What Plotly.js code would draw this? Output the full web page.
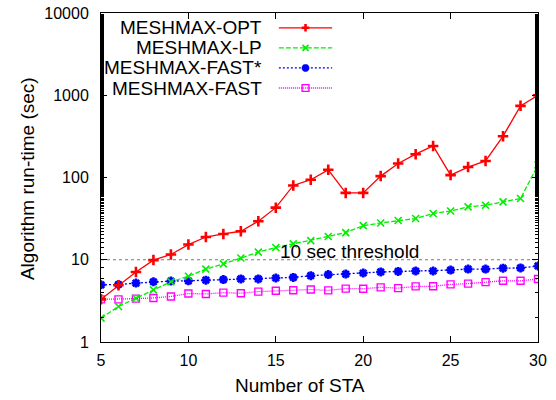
<!DOCTYPE html>
<html>
<head>
<meta charset="utf-8">
<script src="https://cdn.plot.ly/plotly-3.0.1.min.js"></script>
<style>html,body{margin:0;padding:0;background:#fff;}#chart{width:556px;height:400px;}</style>
</head>
<body>
<div id="chart"></div>
<script>
const numSTA = [5,6,7,8,9,10,11,12,13,14,15,16,17,18,19,20,21,22,23,24,25,26,27,28,29,30];
const meshmaxOpt = [3.3,4.9,7.1,9.9,11.6,15.3,18.9,20.6,22.2,29.4,43,80,94,124,65,65,104,148,192,242,107,134,159,318,743,1000];
const meshmaxLp = [1.95,2.7,3.4,4.3,5.4,6.3,7.7,8.9,10.5,12.4,14.1,15.6,17.1,19.2,21.4,26,28,30,31.7,36.5,39.2,43.9,46,50.6,55.5,142];
const meshmaxFastStar = [4.95,5.0,5.2,5.4,5.5,5.55,5.65,5.75,5.85,5.85,6.0,6.1,6.4,6.6,6.7,6.9,7.1,7.2,7.3,7.3,7.5,7.7,7.7,7.9,7.95,8.4];
const meshmaxFast = [3.3,3.3,3.37,3.43,3.58,3.88,3.84,3.98,3.92,4.1,4.2,4.25,4.34,4.24,4.46,4.44,4.62,4.52,4.74,4.76,5.02,5.13,5.35,5.55,5.55,5.84];
const seriesNames = ["MESHMAX-OPT","MESHMAX-LP","MESHMAX-FAST*","MESHMAX-FAST"];
const thresholdValue = 10;
const thresholdLabel = "10 sec threshold";
const xTicks = [5,10,15,20,25,30];
const yTickVals = [1,10,100,1000,10000];
const yTickText = ["1","10","100","1000","10000"];
const xTitle = "Number of STA";
const yTitle = "Algorithm run-time (sec)";

const FONT = "Liberation Sans, Arial, Helvetica, sans-serif";
const styles = [
  {color:"#ff0000", dash:"solid", symbol:"cross-thin-open", size:7.5, mlw:2.6},
  {color:"#00ee00", dash:"5px,2px", symbol:"x-thin-open", size:7, mlw:1.6},
  {color:"#0000ff", dash:"2px,2px", symbol:"asterisk-open", size:7.5, mlw:2.6},
  {color:"#ff00ff", dash:"1px,1px", symbol:"square-open", size:7, mlw:1.4}
];
const seriesData = [meshmaxOpt, meshmaxLp, meshmaxFastStar, meshmaxFast];

const traces = [{
  x:[numSTA[0], numSTA[numSTA.length-1]], y:[thresholdValue, thresholdValue],
  mode:"lines", line:{color:"#777777", width:1, dash:"3px,3px"},
  showlegend:false, hoverinfo:"skip"
}];
for (let i = seriesData.length-1; i >= 0; i--) {
  const s = styles[i];
  traces.push({
    x:numSTA, y:seriesData[i], name:seriesNames[i], mode:"lines+markers",
    line:{color:s.color, width:1.3, dash:s.dash},
    marker:{symbol:s.symbol, size:s.size, color:s.color, line:{color:s.color, width:s.mlw}},
    showlegend:false
  });
}

// gnuplot-style key: text right-aligned, sample to the right
const keyRows = [0.955, 0.894, 0.833, 0.772];
const keyTextX = 0.373, keyLineX0 = 0.407, keyLineX1 = 0.529, keyMarkX = 0.468;
const markerPaths = [
  "M-3.8,0H3.8M0,-3.8V3.8",
  "M-3,-3L3,3M-3,3L3,-3",
  "M-3.8,0H3.8M0,-3.8V3.8M-2.7,-2.7L2.7,2.7M-2.7,2.7L2.7,-2.7",
  "M-3.4,-3.4H3.4V3.4H-3.4Z"
];
const annotations = [];
const shapes = [];
seriesNames.forEach((n, i) => {
  const s = styles[i];
  annotations.push({text:n, xref:"paper", yref:"paper", x:keyTextX, y:keyRows[i],
    xanchor:"right", yanchor:"middle", showarrow:false, font:{family:FONT, size:19, color:"#000"}});
  shapes.push({type:"line", xref:"paper", yref:"paper", x0:keyLineX0, x1:keyLineX1, y0:keyRows[i], y1:keyRows[i],
    line:{color:s.color, width:1.3, dash:s.dash}});
  shapes.push({type:"path", xref:"paper", yref:"paper", xsizemode:"pixel", ysizemode:"pixel",
    xanchor:keyMarkX, yanchor:keyRows[i], path:markerPaths[i],
    line:{color:s.color, width:s.mlw}, fillcolor:"rgba(0,0,0,0)"});
});
annotations.push({text:thresholdLabel, xref:"x", yref:"y", x:19.2, y:Math.log10(thresholdValue),
  xanchor:"center", yanchor:"middle", yshift:8, showarrow:false, font:{family:FONT, size:19, color:"#000"}});
annotations.push({text:xTitle, xref:"paper", yref:"paper", x:0.4565, y:-0.131,
  xanchor:"center", yanchor:"middle", showarrow:false, font:{family:FONT, size:19, color:"#000"}});
annotations.push({text:yTitle, xref:"paper", yref:"paper", x:-0.168, y:0.497, textangle:-90,
  xanchor:"center", yanchor:"middle", showarrow:false, font:{family:FONT, size:19, color:"#000"}});

const layout = {
  width:556, height:400,
  margin:{l:101, r:18, t:13, b:58},
  paper_bgcolor:"#fff", plot_bgcolor:"#fff",
  showlegend:false,
  font:{family:FONT, size:16, color:"#000"},
  xaxis:{range:[5,30], tickvals:xTicks, ticks:"inside", ticklen:6, tickcolor:"#000",
    showline:true, linecolor:"#000", linewidth:1, mirror:"allticks",
    showgrid:false, zeroline:false, ticklabelstandoff:4, tickfont:{size:16}},
  yaxis:{type:"log", range:[0,4], tickvals:yTickVals, ticktext:yTickText, ticks:"inside", ticklen:6, tickcolor:"#000",
    showline:true, linecolor:"#000", linewidth:1, mirror:"allticks",
    showgrid:false, zeroline:false, ticklabelstandoff:8, tickfont:{size:16},
    minor:{ticks:"inside", ticklen:3, tickcolor:"#000", showgrid:false}},
  shapes:shapes,
  annotations:annotations
};
Plotly.newPlot("chart", traces, layout, {displayModeBar:false, staticPlot:true});
</script>
</body>
</html>
